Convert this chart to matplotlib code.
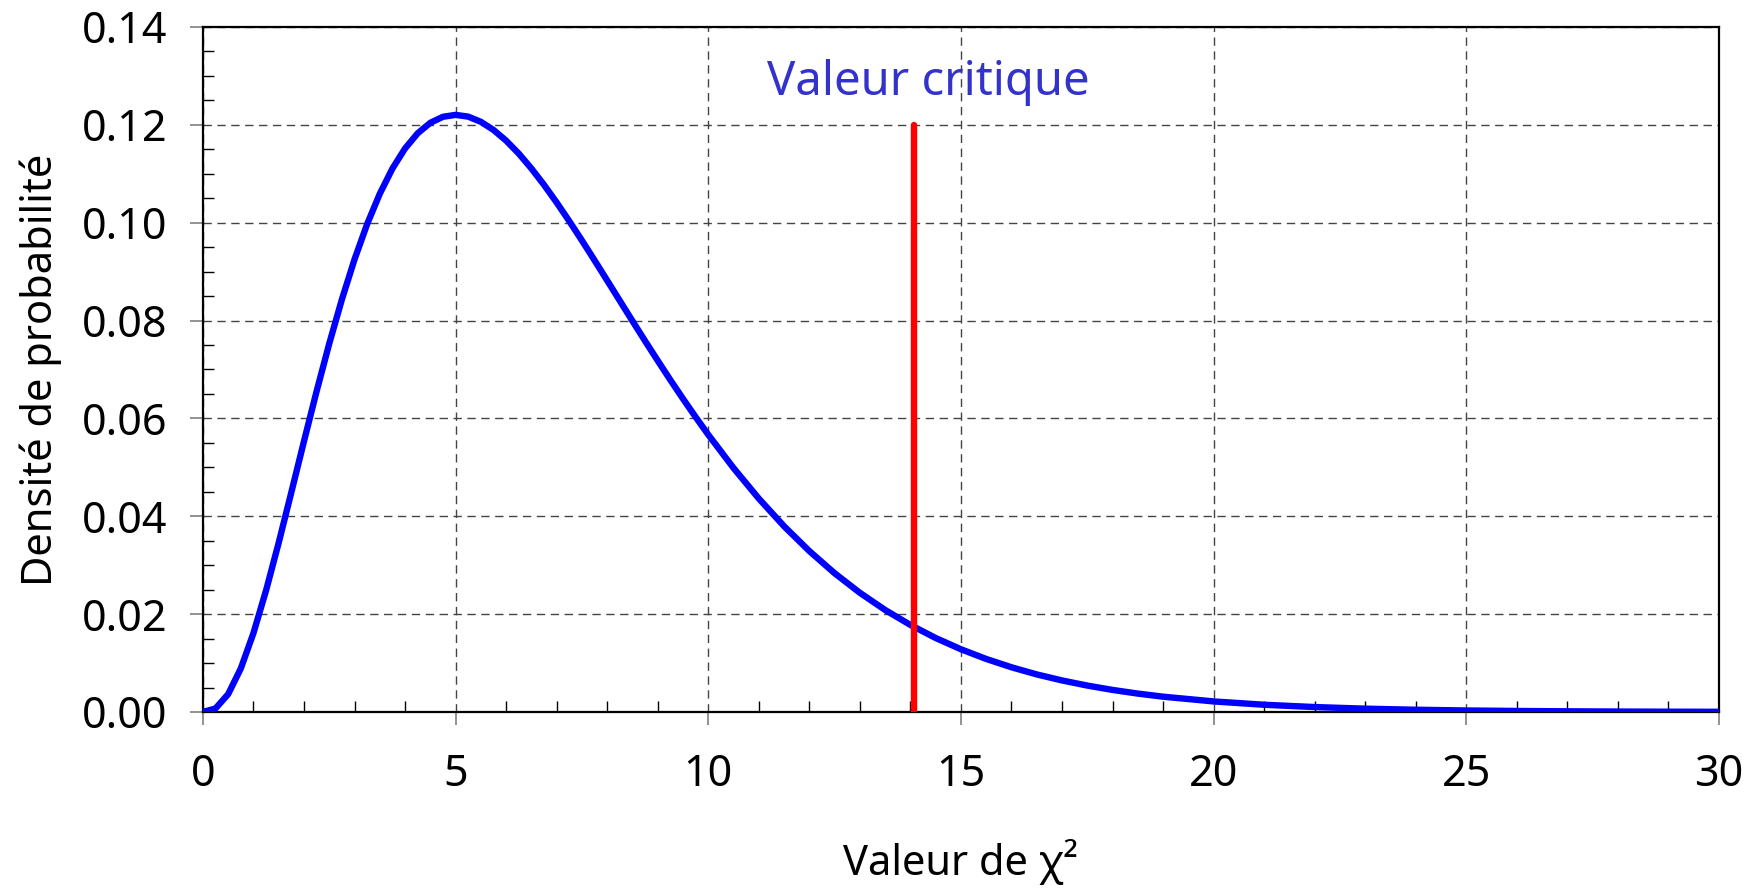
import matplotlib
matplotlib.use("Agg")
import matplotlib.pyplot as plt
from matplotlib.ticker import MultipleLocator, FormatStrFormatter

plt.rcParams['font.family'] = ['Noto Sans', 'DejaVu Sans']

# chi-square density (7 degrees of freedom)
chi_x = [0, 0.25, 0.5, 0.75, 1, 1.25, 1.5, 1.75, 2, 2.25, 2.5, 2.75, 3, 3.25,
         3.5, 3.75, 4, 4.25, 4.5, 4.75, 5, 5.25, 5.5, 5.75, 6, 6.25, 6.5, 6.75,
         7, 7.25, 7.5, 7.75, 8, 8.25, 8.5, 8.75, 9, 9.25, 9.5, 9.75, 10, 10.5,
         11, 11.5, 12, 12.5, 13, 13.5, 14, 14.5, 15, 15.5, 16, 16.5, 17, 17.5,
         18, 18.5, 19, 20, 21, 22, 23, 24, 25, 26, 27, 28, 29, 30]
density = [0.0, 0.00073, 0.00366, 0.00891, 0.01613, 0.02487, 0.03462, 0.04492,
           0.05535, 0.06557, 0.07530, 0.08433, 0.09251, 0.09973, 0.10592,
           0.11107, 0.11518, 0.11828, 0.12042, 0.12165, 0.12204, 0.12168,
           0.12062, 0.11896, 0.11677, 0.11412, 0.11108, 0.10773, 0.10412,
           0.10031, 0.09636, 0.09230, 0.08818, 0.08404, 0.07991, 0.07582,
           0.07180, 0.06785, 0.06401, 0.06028, 0.05667, 0.04986, 0.04362,
           0.03796, 0.03289, 0.02836, 0.02436, 0.02085, 0.01779, 0.01512,
           0.01282, 0.01084, 0.00914, 0.00768, 0.00645, 0.00540, 0.00451,
           0.00376, 0.00313, 0.00216, 0.00148, 0.00101, 0.00068, 0.00046,
           0.00031, 0.00021, 0.00014, 0.00009, 0.00006, 0.00004]

critical_value = 14.07
critical_top = 0.12

fig = plt.figure(figsize=(17.6, 8.91), dpi=100)
ax = fig.add_axes([0.1153, 0.2009, 0.8614, 0.7688])

ax.plot(chi_x, density, color='#0000FF', lw=4.6, solid_capstyle='round',
        solid_joinstyle='round', zorder=3)
ax.plot([critical_value, critical_value], [0, critical_top], color='#FF0000',
        lw=4.6, solid_capstyle='round', zorder=4)
ax.text(14.35, 0.126, "Valeur critique", color='#3333CC', fontsize=34,
        ha='center', va='baseline')

ax.set_xlim(0, 30)
ax.set_ylim(0, 0.14)
ax.xaxis.set_major_locator(MultipleLocator(5))
ax.xaxis.set_minor_locator(MultipleLocator(1))
ax.yaxis.set_major_locator(MultipleLocator(0.02))
ax.yaxis.set_minor_locator(MultipleLocator(0.005))
ax.yaxis.set_major_formatter(FormatStrFormatter('%.2f'))

ax.tick_params(which='major', direction='out', length=9.5, width=1.2,
               color='#808080', labelsize=31)
ax.tick_params(axis='x', which='major', pad=20)
ax.tick_params(axis='y', which='major', pad=16)
ax.tick_params(which='minor', direction='in', length=8, width=1, color='black')
ax.tick_params(top=False, right=False, which='both')

ax.grid(True, which='major', color='#444444', lw=1, linestyle=(0, (6, 4)))
ax.set_axisbelow(True)
for s in ax.spines.values():
    s.set_linewidth(1.6)
    s.set_color('black')

ax.set_ylabel("Densité de probabilité", fontsize=30)
ax.yaxis.set_label_coords(-0.093, 0.5)
ax.set_xlabel("Valeur de χ²", fontsize=30)
ax.xaxis.set_label_coords(0.5, -0.186)

fig.savefig("out.png", dpi=100)
